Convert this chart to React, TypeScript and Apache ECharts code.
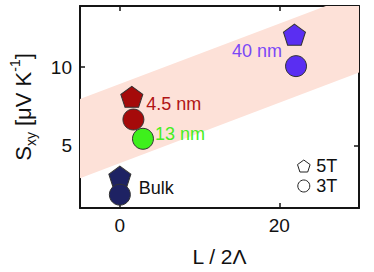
import React, { useEffect, useRef } from "react";
import * as echarts from "echarts";

// ---- data ----
const names5T = ["Bulk", "4.5 nm", "40 nm"];
const x5T = [0, 1.5, 21.9];
const y5T = [3.0, 8.1, 12.07];

const names3T = ["Bulk", "4.5 nm", "13 nm", "40 nm"];
const x3T = [0, 1.7, 2.9, 22.1];
const y3T = [1.85, 6.65, 5.42, 10.06];

const bandX = [-5, 30];
const bandLow = [2.9, 9.65];
const bandHigh = [7.96, 14.7];

const xTicks = [0, 20];
const yTicks = [5, 10];

// ---- styles ----
const FONT = "'Liberation Sans', Arial, Helvetica, sans-serif";
const fill: Record<string, string> = {
  Bulk: "#1e2263",
  "4.5 nm": "#a50a0a",
  "13 nm": "#3ef01c",
  "40 nm": "#5a2ef2",
};
const labelColor: Record<string, string> = {
  Bulk: "#111111",
  "4.5 nm": "#b01515",
  "13 nm": "#44ee22",
  "40 nm": "#7a48f6",
};
const PENTAGON = "path://M50,0 L100,36.3 L80.9,95.1 L19.1,95.1 L0,36.3 Z";

const label5T: Record<string, any> = {
  "4.5 nm": { position: "right", distance: 3, offset: [0, 7] },
};
const label3T: Record<string, any> = {
  Bulk: { position: "right", distance: 8, offset: [0, -7] },
  "13 nm": { position: "right", distance: 1, offset: [0, -5] },
  "40 nm": { position: "left", distance: 3, offset: [0, -15] },
};

function buildPoints(names: string[], xs: number[], ys: number[], labels: Record<string, any>) {
  return names.map((n, i) => {
    const lab = labels[n];
    return {
      name: n,
      value: [xs[i], ys[i]],
      itemStyle: { color: fill[n], opacity: 1 },
      label: lab
        ? {
            show: true,
            formatter: n,
            color: labelColor[n],
            opacity: 1,
            fontSize: 18,
            fontFamily: FONT,
            ...lab,
          }
        : { show: false },
    };
  });
}

export default function App() {
  const ref = useRef<HTMLDivElement>(null);
  useEffect(() => {
    if (!ref.current) return;
    const chart = echarts.init(ref.current, undefined, { renderer: "svg" });
    const axisCommon = {
      type: "value" as const,
      axisLine: { show: true, onZero: false, lineStyle: { color: "#151515", width: 2 } },
      splitLine: { show: false },
    };
    chart.setOption({
      animation: false,
      backgroundColor: "#ffffff",
      grid: { left: 76, right: 15, top: 6, bottom: 63 },
      legend: {
        orient: "vertical",
        left: 292,
        top: 152,
        itemWidth: 13,
        itemHeight: 12,
        itemGap: 2,
        textStyle: { fontSize: 18, fontFamily: FONT, color: "#111", lineHeight: 18, padding: [0, 0, 0, 1] },
        data: [
          { name: "5T", icon: PENTAGON, itemStyle: { color: "#ffffff", borderColor: "#222", borderWidth: 1, opacity: 1 } },
          { name: "3T", icon: "circle", itemStyle: { color: "#ffffff", borderColor: "#222", borderWidth: 1, opacity: 1 } },
        ],
      },
      xAxis: [
        {
          ...axisCommon,
          position: "bottom",
          min: -5,
          max: 30,
          name: "L / 2Λ",
          nameLocation: "middle",
          nameGap: 38,
          nameTextStyle: { fontSize: 21, fontFamily: FONT, color: "#111" },
          axisTick: { show: true, inside: true, length: 5, customValues: xTicks, lineStyle: { color: "#151515", width: 1.5 } },
          axisLabel: { show: true, customValues: xTicks, fontSize: 19, fontFamily: FONT, color: "#111", margin: 8 },
        },
        {
          ...axisCommon,
          position: "top",
          min: -5,
          max: 30,
          axisTick: { show: true, inside: true, length: 5, customValues: xTicks, lineStyle: { color: "#151515", width: 1.5 } },
          axisLabel: { show: false },
        },
      ],
      yAxis: [
        {
          ...axisCommon,
          position: "left",
          min: 1,
          max: 13.9,
          name: "{m|S}{sub|xy}{m| [μV K}{sup|-1}{m|]}",
          nameLocation: "middle",
          nameGap: 42,
          nameTextStyle: {
            fontFamily: FONT,
            color: "#111",
            rich: {
              m: { fontSize: 22, fontFamily: FONT, color: "#111", lineHeight: 30 },
              sub: { fontSize: 14, fontFamily: FONT, color: "#111", lineHeight: 14, verticalAlign: "bottom" },
              sup: { fontSize: 14, fontFamily: FONT, color: "#111", lineHeight: 14, verticalAlign: "top" },
            },
          },
          axisTick: { show: true, inside: true, length: 5, customValues: yTicks, lineStyle: { color: "#151515", width: 1.5 } },
          axisLabel: { show: true, customValues: yTicks, fontSize: 19, fontFamily: FONT, color: "#111", margin: 8 },
        },
        {
          ...axisCommon,
          position: "right",
          min: 1,
          max: 13.9,
          axisTick: { show: true, inside: true, length: 5, customValues: yTicks, lineStyle: { color: "#151515", width: 1.5 } },
          axisLabel: { show: false },
        },
      ],
      series: [
        {
          type: "custom",
          name: "band",
          clip: true,
          silent: true,
          z: 1,
          data: bandX.map((x, i) => [x, bandLow[i], bandHigh[i]]),
          encode: { x: 0, y: [1, 2] },
          renderItem: (params: any, api: any) => {
            if (params.dataIndex !== 0) return null;
            const pts = [
              api.coord([bandX[0], bandLow[0]]),
              api.coord([bandX[1], bandLow[1]]),
              api.coord([bandX[1], bandHigh[1]]),
              api.coord([bandX[0], bandHigh[0]]),
            ];
            return {
              type: "polygon",
              shape: { points: pts },
              style: { fill: "#fde1d8", stroke: "none" },
            };
          },
        },
        {
          type: "scatter",
          name: "5T",
          symbol: PENTAGON,
          symbolSize: [22, 21],
          z: 3,
          itemStyle: { color: "#ffffff", borderColor: "#333", borderWidth: 1, opacity: 1 },
          data: buildPoints(names5T, x5T, y5T, label5T),
        },
        {
          type: "scatter",
          name: "3T",
          symbol: "circle",
          symbolSize: 21,
          z: 4,
          itemStyle: { color: "#ffffff", borderColor: "#333", borderWidth: 1, opacity: 1 },
          data: buildPoints(names3T, x3T, y3T, label3T),
        },
      ],
    });
    return () => chart.dispose();
  }, []);
  return <div ref={ref} style={{ width: 374, height: 272, position: "absolute", left: 0, top: 0 }} />;
}
